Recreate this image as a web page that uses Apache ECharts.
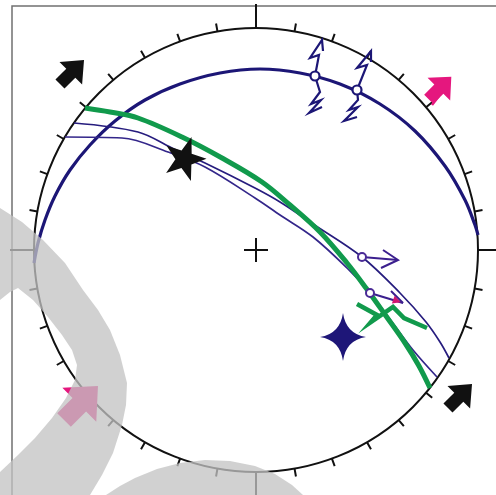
<!DOCTYPE html>
<html><head><meta charset="utf-8">
<script src="https://cdn.jsdelivr.net/npm/echarts/dist/echarts.min.js"></script>
<style>html,body{margin:0;padding:0;background:#fff}#c{width:496px;height:495px}</style>
</head><body><div id="c"></div>
<script>
// Stereonet data, in net units relative to the projection centre (x east, y north); primitive radius R
const R = 222;
const tickStepDeg = 10;
const greatCircleA = [[-222,-13],[-218,7],[-211,30],[-201,54],[-186,80],[-166,105],[-141,129],[-111,150],[-76,166],[-36,177],[4,181],[44,177],[84,166],[124,146],[159,119],[189,84],[209,50],[219,25],[222,15]];
const greatCircleB = [[-171,142],[-146,138],[-118,132],[-74,113],[-34,92],[6,68],[34,45],[64,18],[91,-13],[110,-38],[130,-66],[149,-93],[163,-116],[174,-138]];
const greatCircleC = [[-182,127],[-118,118],[-84,102],[-51,87],[-1,62],[24,48],[57,26],[106,-7],[144,-43],[170,-72],[184,-92],[193,-108]];
const greatCircleD = [[-191,113],[-134,112],[-88,98],[-51,83],[-1,52],[24,35],[57,13],[91,-18],[114,-43],[136,-72],[157,-100],[181,-127]];
const slipPointsA = [[59,174],[101,160]];
const slipPointsCD = [[106,-7],[114,-43]];
const slipMarksA = [
  [[59,174],[63,195],[54,192],[66,210],[67,199]],
  [[59,174],[64,158],[55,146],[65,150],[53,137],[66,143]],
  [[101,160],[111,185],[101,182],[115,199],[115,188]],
  [[101,160],[102,150],[93,140],[102,143],[88,129],[101,133]]
];
const slipMarksCD = [
  [[106,-7],[142,-10]],
  [[127,0],[142,-10],[125,-18]],
  [[114,-43],[147,-53]],
  [[135,-41],[147,-53]]
];
const slipHeadPink = [[141,-51]];
const greenSlipMark = [[101,-54],[121,-65],[115,-72],[137,-57],[148,-68],[171,-78]];
const sigma1Star = [[-71,93]];
const sigma3Cross = [[87,-87]];
const blackArrows = [[-184,178],[204,-146]];
const pinkArrows = [[184,162,32],[-175,-153,48]];
const pinkStem = [[176,145],[183,154]];
const cardinalTicks = [[[0,R],[0,246]],[[R,0],[242,0]],[[0,-R],[0,-246]],[[-R,0],[-246,0]]];
const centreCross = [[[-12,0],[12,0]],[[0,-12],[0,12]]];

const navy = '#1c1676', navy2 = '#261c7e', navy3 = '#33268a', green = '#119a4c';
const blockArrow = 'path://M0,-10L10,1L4,1L4,10L-4,10L-4,1L-10,1Z';
const star5 = 'path://M0,-10L2.4,-3.2L9.5,-3.1L3.8,1.3L5.9,8.1L0,4L-5.9,8.1L-3.8,1.3L-9.5,-3.1L-2.4,-3.2Z';
const star4 = 'path://M0,-10Q1.3,-1.3 10,0Q1.3,1.3 0,10Q-1.3,1.3 -10,0Q-1.3,-1.3 0,-10Z';

const bandPts = [[0,208],[22,222],[43,240],[65,263],[83,290],[98,310],[110,330],[120,355],[127,383],[126,405],[122,425],[113,453],[102,475],[90,495],[0,495],[0,472],[18,455],[35,438],[52,418],[66,398],[75,380],[77,365],[72,350],[62,335],[48,317],[33,300],[18,288],[10,292],[0,300]];
const blobPts = [[106,495],[120,486],[135,478],[157,469],[180,463],[205,460],[230,461],[255,466],[275,474],[292,485],[303,495]];

const chart = echarts.init(document.getElementById('c'), null, {renderer:'canvas'});
const lineSeries = (data, color, width, z) => ({type:'line', data, smooth:0.35, symbol:'none', lineStyle:{color, width}, z, silent:true});
const linesSeries = (paths, color, width, z) => ({type:'lines', coordinateSystem:'cartesian2d', polyline:true, data: paths.map(p=>({coords:p})), lineStyle:{color, width, opacity:1}, z, silent:true});
const solid = (color) => ({color, opacity:1});
chart.setOption({
  animation:false,
  grid:{left:0,right:0,top:0,bottom:0,containLabel:false},
  xAxis:{type:'value',min:-256,max:240,show:false},
  yAxis:{type:'value',min:-245,max:250,show:false},
  polar:{center:[256,250],radius:R},
  angleAxis:{type:'value',min:0,max:360,interval:tickStepDeg,startAngle:90,clockwise:true,
    axisLine:{lineStyle:{color:'#111',width:2}},
    axisTick:{show:true,inside:false,length:8,lineStyle:{color:'#111',width:2}},
    axisLabel:{show:false},splitLine:{show:false}},
  radiusAxis:{type:'value',min:0,max:R,show:false},
  graphic:[
    {type:'rect',shape:{x:12,y:6,width:600,height:600},style:{fill:'transparent',stroke:'#707070',lineWidth:1.5},z:0,silent:true},
    {type:'polygon',shape:{points:bandPts},style:{fill:'rgba(195,195,195,0.76)'},z:100,silent:true},
    {type:'polygon',shape:{points:blobPts},style:{fill:'rgba(195,195,195,0.76)'},z:100,silent:true}
  ],
  series:[
    linesSeries(cardinalTicks,'#111',2,3),
    linesSeries(centreCross,'#111',2,3),
    lineSeries(greatCircleA,navy,3.2,5),
    lineSeries(greatCircleC,navy2,1.7,5),
    lineSeries(greatCircleD,navy3,1.7,5),
    lineSeries(greatCircleB,green,5,6),
    linesSeries(slipMarksA,navy,2.2,7),
    linesSeries(slipMarksCD,'#3b1f8e',2,7),
    linesSeries([greenSlipMark],green,4.5,7),
    linesSeries([pinkStem],'#e5177e',2.5,7),
    {type:'scatter',data:slipPointsA,symbol:'circle',symbolSize:9,itemStyle:{color:'#fff',opacity:1,borderColor:navy,borderWidth:2.2},z:8,silent:true},
    {type:'scatter',data:slipPointsCD,symbol:'circle',symbolSize:8,itemStyle:{color:'#fff',opacity:1,borderColor:'#4a2a96',borderWidth:2},z:8,silent:true},
    {type:'scatter',data:slipHeadPink,symbol:'triangle',symbolSize:8,symbolRotate:-110,itemStyle:solid('#d0186f'),z:8,silent:true},
    {type:'scatter',data:sigma1Star,symbol:star5,symbolSize:[42,42],symbolRotate:-18,itemStyle:solid('#111'),z:9,silent:true},
    {type:'scatter',data:sigma3Cross,symbol:star4,symbolSize:[46,48],itemStyle:solid('#1e1678'),z:9,silent:true},
    {type:'scatter',data:blackArrows,symbol:blockArrow,symbolSize:[32,34],symbolRotate:-45,itemStyle:solid('#111'),z:9,silent:true},
    {type:'scatter',data:pinkArrows.map(p=>({value:[p[0],p[1]],symbolSize:p[2]})),symbol:blockArrow,symbolRotate:-45,itemStyle:solid('#e5177e'),z:9,silent:true}
  ]
});
</script></body></html>
